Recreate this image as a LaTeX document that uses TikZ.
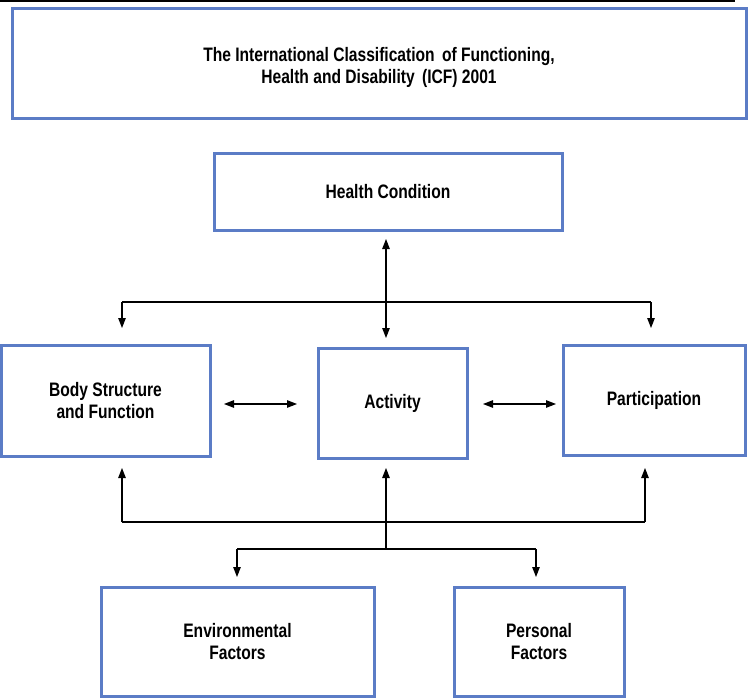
\documentclass[tikz,border=0pt]{standalone}
\usepackage{fontspec}
\setmainfont{Liberation Sans}[FakeStretch=0.8]
\usetikzlibrary{arrows.meta}
\definecolor{boxblue}{HTML}{5B7CC6}
\begin{document}
\begin{tikzpicture}[x=1pt,y=-1pt,
  box/.style={draw=boxblue, line width=3pt, fill=white, inner sep=0pt, outer sep=0pt,
    align=center, font=\bfseries\fontsize{19.5}{22.5}\selectfont},
  conn/.style={line width=1.2pt, draw=black},
  tip/.style={-{Triangle[length=10pt,width=7.5pt]}},
  dtip/.style={{Triangle[length=10pt,width=7.5pt]}-{Triangle[length=10pt,width=7.5pt]}}
]
\useasboundingbox (0,0) rectangle (755,698);
\fill[black] (0,0) rectangle (735,2);

\node[box, minimum width=734pt, minimum height=110pt] (title) at (379,64)
  {\raisebox{-4pt}[\height][\depth]{\begin{tabular}{@{}c@{}}The International Classification\hspace{3pt} of Functioning,\\[-1pt]Health and Disability\hspace{3pt} (ICF) 2001\end{tabular}}};
\node[box, minimum width=348pt, minimum height=76pt] (hc) at (388,192) {Health Condition};
\node[box, minimum width=209pt, minimum height=111pt] (body) at (105.5,400.5) {Body Structure\\and Function};
\node[box, minimum width=149pt, minimum height=110pt] (act) at (392.5,403) {Activity};
\node[box, minimum width=182pt, minimum height=110pt] (part) at (654,400) {Participation};
\node[box, minimum width=273pt, minimum height=109pt] (env) at (237.5,641.5) {Environmental\\Factors};
\node[box, minimum width=170pt, minimum height=109pt] (pers) at (539,641.5) {Personal\\Factors};

% helper coordinates
\coordinate (cx) at (386,0);
\coordinate (ltop) at (122,302);
\coordinate (rtop) at (651,302);
\coordinate (row) at (0,404);
\coordinate (lbot) at (122,522);
\coordinate (rbot) at (645,522);
\coordinate (csplit) at (386,549);
\coordinate (eleft) at (237,549);
\coordinate (pright) at (536,549);

% health condition <-> activity
\draw[conn, dtip, shorten <=9pt, shorten >=10pt] (hc.south -| cx) -- (act.north -| cx);
% top distribution
\draw[conn] (ltop) -- (rtop);
\draw[conn, tip, shorten >=17pt] (ltop) -- (ltop |- body.north);
\draw[conn, tip, shorten >=17pt] (rtop) -- (rtop |- part.north);
% horizontal double arrows
\draw[conn, dtip, shorten <=14pt, shorten >=21pt] (body.east |- row) -- (act.west |- row);
\draw[conn, dtip, shorten <=16pt, shorten >=7pt] (act.east |- row) -- (part.west |- row);
% bottom collection
\draw[conn] (lbot) -- (rbot);
\draw[conn, tip, shorten >=12pt] (lbot) -- (lbot |- body.south);
\draw[conn, tip, shorten >=13pt] (rbot) -- (rbot |- part.south);
\draw[conn, tip, shorten >=10pt] (csplit) -- (csplit |- act.south);
% lower split
\draw[conn] (eleft) -- (pright);
\draw[conn, tip, shorten >=10pt] (eleft) -- (eleft |- env.north);
\draw[conn, tip, shorten >=10pt] (pright) -- (pright |- pers.north);
\end{tikzpicture}
\end{document}
